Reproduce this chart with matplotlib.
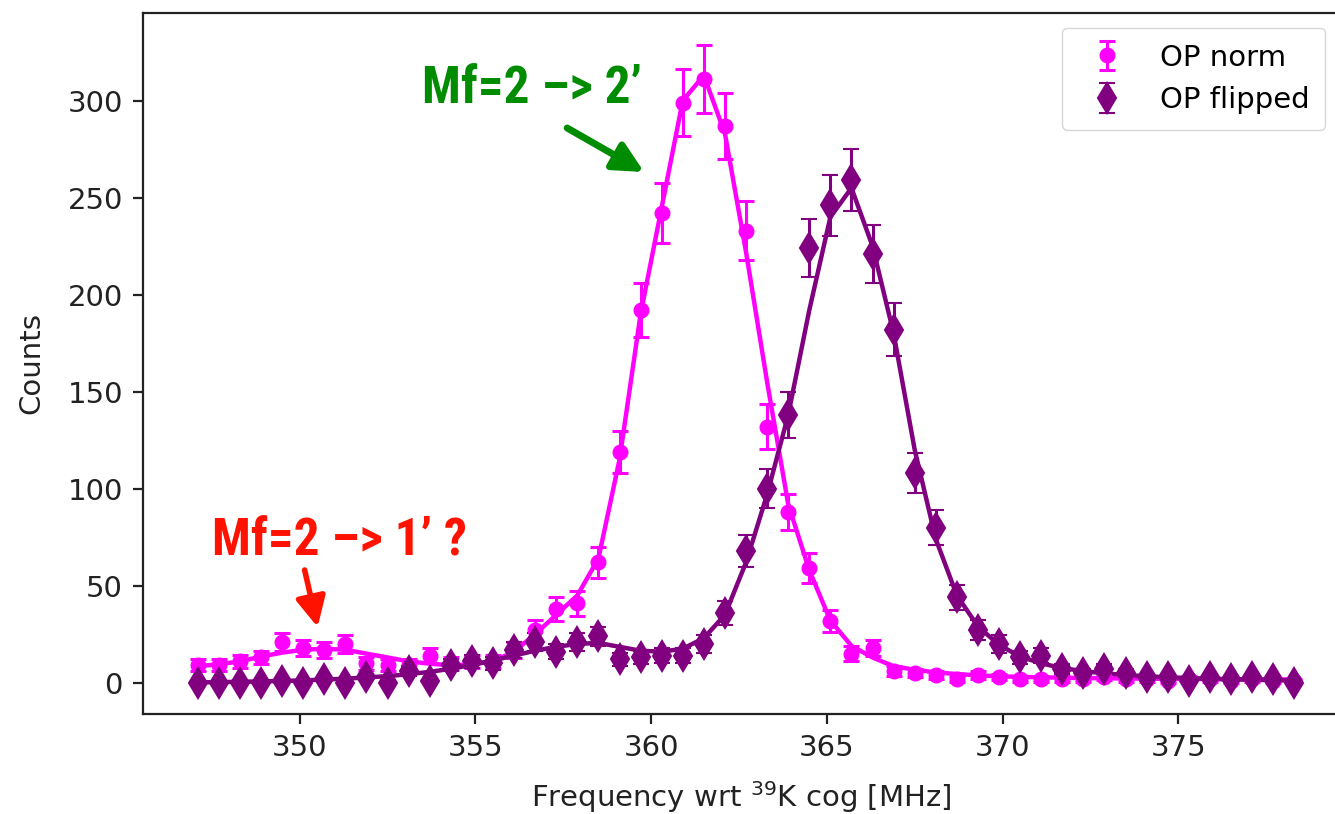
import matplotlib
matplotlib.use("Agg")
import matplotlib.pyplot as plt

# scan grid (MHz wrt 39K cog)
freq = [347.1, 347.7, 348.3, 348.9, 349.5, 350.1, 350.7, 351.3, 351.9, 352.5,
        353.1, 353.7, 354.3, 354.9, 355.5, 356.1, 356.7, 357.3, 357.9, 358.5,
        359.1, 359.7, 360.3, 360.9, 361.5, 362.1, 362.7, 363.3, 363.9, 364.5,
        365.1, 365.7, 366.3, 366.9, 367.5, 368.1, 368.7, 369.3, 369.9, 370.5,
        371.1, 371.7, 372.3, 372.9, 373.5, 374.1, 374.7, 375.3, 375.9, 376.5,
        377.1, 377.7, 378.3]

# OP norm
norm_counts = [9, 9, 11, 13, 21, 18, 17, 20, 10, 9,
               9, 14, 10, 11, 11, 17, 27, 38, 41, 62,
               119, 192, 242, 299, 311, 287, 233, 132, 88, 59,
               32, 15, 18, 6, 5, 4, 2, 4, 3, 2,
               2, 2, 2, 3, 2, 2, 1, 2, 2, 1,
               2, 1, 1]
norm_err = [3.0, 3.0, 3.3, 3.6, 4.6, 4.2, 4.1, 4.5, 3.2, 3.0,
            3.0, 3.7, 3.2, 3.3, 3.3, 4.1, 5.2, 6.2, 6.4, 7.9,
            10.9, 13.9, 15.6, 17.3, 17.6, 16.9, 15.3, 11.5, 9.4, 7.7,
            5.7, 3.9, 4.2, 2.4, 2.2, 2.0, 1.4, 2.0, 1.7, 1.4,
            1.4, 1.4, 1.4, 1.7, 1.4, 1.4, 1.0, 1.4, 1.4, 1.0,
            1.4, 1.0, 1.0]
norm_fit = [8.5, 9.5, 11, 13.5, 15.5, 17, 17.5, 17, 15, 13,
            11, 9.8, 9, 9.5, 11, 16, 25, 35, 45, 64,
            115, 190, 245, 300, 313, 283, 222, 155, 92, 58,
            32, 19, 13, 8.5, 6.7, 5.3, 4.5, 3.8, 3.3, 3.0,
            2.8, 2.6, 2.4, 2.3, 2.2, 2.1, 2.0, 2.0, 1.9, 1.8,
            1.8, 1.7, 1.7]

# OP flipped
flip_counts = [0, 0, 0, 0, 1, 0, 2, 0, 3, 0,
               6, 1, 9, 11, 10, 17, 21, 16, 21, 24,
               12, 13, 14, 14, 20, 36, 68, 100, 138, 224,
               246, 259, 221, 182, 108, 80, 44, 27, 20, 13,
               14, 7, 5, 7, 5, 3, 3, 1, 3, 2,
               3, 2, 0]
flip_err = [0, 0, 0, 0, 1.0, 0, 1.4, 0, 1.7, 0,
            2.4, 1.0, 3.0, 3.3, 3.2, 4.1, 4.6, 4.0, 4.6, 4.9,
            3.5, 3.6, 3.7, 3.7, 4.5, 6.0, 8.2, 10.0, 11.7, 15.0,
            15.7, 16.1, 14.9, 13.5, 10.4, 8.9, 6.6, 5.2, 4.5, 3.6,
            3.7, 2.6, 2.2, 2.6, 2.2, 1.7, 1.7, 1.0, 1.7, 1.4,
            1.7, 1.4, 0]
flip_fit = [0.2, 0.3, 0.5, 0.7, 0.9, 1.2, 1.6, 2.1, 2.7, 3.4,
            4.4, 5.6, 7.2, 9.2, 11.5, 14, 16.5, 18.5, 20, 20.5,
            18.5, 16.5, 16, 17.5, 23, 35, 62, 97, 138, 192,
            240, 255, 225, 180, 120, 74, 45, 29, 19.5, 13.5,
            10, 7.5, 6, 4.8, 4.0, 3.3, 2.8, 2.4, 2.0, 1.8,
            1.5, 1.3, 1.1]

PINK = "#ff00ff"
PURPLE = "#800080"
GREEN = "#008c00"
RED = "#ff1200"

plt.rcParams["font.family"] = ["DejaVu Sans"]
plt.rcParams["font.size"] = 21

fig = plt.figure(figsize=(13.35, 8.14), dpi=100)
ax = fig.add_axes([0.1071, 0.1229, 0.8966, 0.8612])

ax.errorbar(freq, norm_counts, yerr=norm_err, fmt="o", color=PINK, ms=10.5,
            elinewidth=2.2, capsize=6, capthick=2.2, label="OP norm")
ax.plot(freq, norm_fit, color=PINK, lw=3.2)
ax.errorbar(freq, flip_counts, yerr=flip_err, fmt="d", color=PURPLE, ms=15,
            mew=1.5, elinewidth=2.2, capsize=6, capthick=2.2, label="OP flipped")
ax.plot(freq, flip_fit, color=PURPLE, lw=3.2)

ax.set_xlim(345.54, 379.6)
ax.set_ylim(-16.1, 345.2)
ax.set_xticks([350, 355, 360, 365, 370, 375])
ax.set_yticks([0, 50, 100, 150, 200, 250, 300])
ax.tick_params(length=7.5, width=1.6, pad=7, colors="#222222")
for sp in ax.spines.values():
    sp.set_linewidth(1.6)
    sp.set_color("#222222")

ax.set_xlabel(r"Frequency wrt $^{39}$K cog [MHz]", labelpad=12, color="#222222")
ax.set_ylabel("Counts", labelpad=16, color="#222222")

ax.legend(loc="upper right", borderpad=0.55)

# hand-drawn style notes (condensed bold face)
note_font = ["Roboto Condensed", "PT Sans Narrow", "DejaVu Sans"]
ax.text(353.49, 298.8, "Mf=2 \u2013> 2\u2019", color=GREEN, fontsize=37,
        fontweight="bold", family=note_font, ha="left", va="baseline")
ax.annotate("", xy=(359.80, 263.2), xytext=(357.61, 285.9),
            arrowprops=dict(arrowstyle="-|>,head_length=0.6,head_width=0.3",
                            lw=5, color=GREEN, mutation_scale=30,
                            shrinkA=0, shrinkB=0))
ax.text(347.5, 65.8, "Mf=2 \u2013> 1\u2019 ?", color=RED, fontsize=37,
        fontweight="bold", family=note_font, ha="left", va="baseline")
ax.annotate("", xy=(350.51, 28.7), xytext=(350.14, 58.1),
            arrowprops=dict(arrowstyle="-|>,head_length=0.6,head_width=0.3",
                            lw=4, color=RED, mutation_scale=30,
                            shrinkA=0, shrinkB=0))

fig.savefig("out.png", dpi=100)
